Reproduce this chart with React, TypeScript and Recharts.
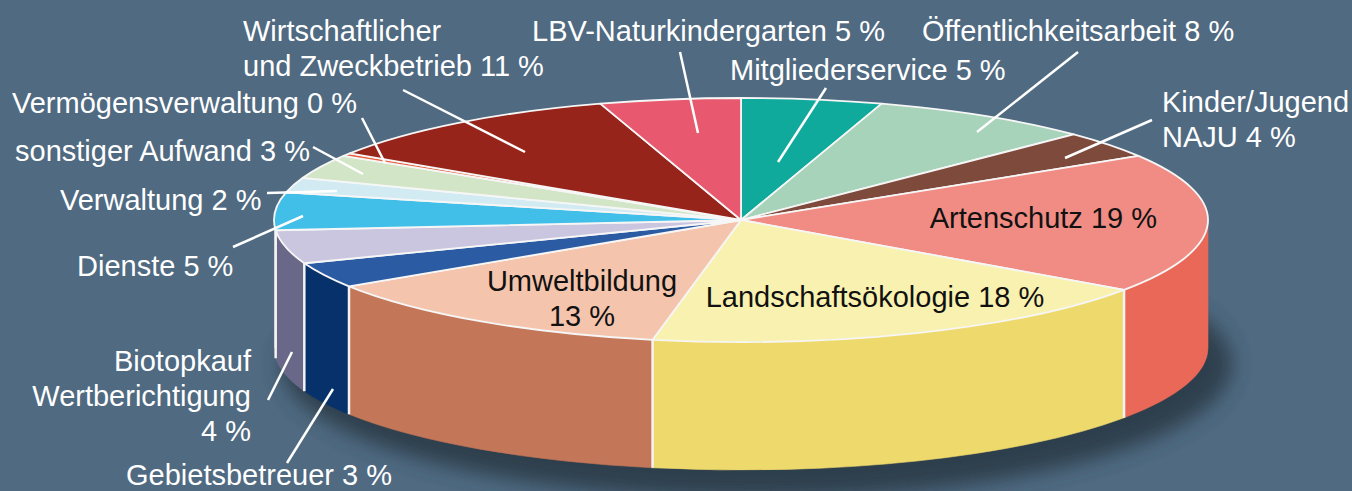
import { Cell, Pie, PieChart } from "recharts";

// clockwise from 12 o'clock
const names = [
  "Mitgliederservice",
  "Öffentlichkeitsarbeit",
  "Kinder/Jugend NAJU",
  "Artenschutz",
  "Landschaftsökologie",
  "Umweltbildung",
  "Gebietsbetreuer",
  "Biotopkauf Wertberichtigung",
  "Dienste",
  "Verwaltung",
  "sonstiger Aufwand",
  "Vermögensverwaltung",
  "Wirtschaftlicher und Zweckbetrieb",
  "LBV-Naturkindergarten",
];
// shares (labels show them rounded)
const values = [4.9, 7.8, 3.6, 18.6, 18.45, 12.9, 3.4, 4.45, 5.0, 2.0, 3.2, 0.4, 11.0, 4.9];
const topColors = [
  "#10aa9c", "#a6d3b9", "#7e4a3c", "#f08c84", "#f9f1b0", "#f4c4ac", "#2b5ca3",
  "#cbc6e0", "#42bfe9", "#d2ebf2", "#d2e5c6", "#e8603f", "#97241b", "#e8596f",
];
const sideColors = [
  "#0c8a7e", "#86b39a", "#5e3428", "#ea6858", "#eed96d", "#c47658", "#06316a",
  "#6a6888", "#6a6888", "#a9c9d2", "#aac49c", "#c24a30", "#741810", "#c23e52",
];
const labelText = [
  ["Mitgliederservice 5 %"],
  ["Öffentlichkeitsarbeit 8 %"],
  ["Kinder/Jugend", "NAJU 4 %"],
  ["Artenschutz 19 %"],
  ["Landschaftsökologie 18 %"],
  ["Umweltbildung", "13 %"],
  ["Gebietsbetreuer 3 %"],
  ["Biotopkauf", "Wertberichtigung", "4 %"],
  ["Dienste 5 %"],
  ["Verwaltung 2 %"],
  ["sonstiger Aufwand 3 %"],
  ["Vermögensverwaltung 0 %"],
  ["Wirtschaftlicher", "und Zweckbetrieb 11 %"],
  ["LBV-Naturkindergarten 5 %"],
];

const data = names.map((name, i) => ({ name, value: values[i] }));

// label placement: x, first baseline, anchor, inside?, leader line
const labelPos: { x: number; y: number; anchor: string; inside?: boolean; line?: number[] }[] = [
  { x: 730, y: 80, anchor: "start", line: [826, 88, 778, 162] },
  { x: 922, y: 41, anchor: "start", line: [1078, 52, 977, 132] },
  { x: 1162, y: 112, anchor: "start", line: [1152, 120, 1065, 158] },
  { x: 1157, y: 228, anchor: "end", inside: true },
  { x: 875, y: 307, anchor: "middle", inside: true },
  { x: 582, y: 291, anchor: "middle", inside: true },
  { x: 126, y: 485, anchor: "start", line: [287, 463, 333, 389] },
  { x: 251, y: 371, anchor: "end", line: [268, 400, 292, 352] },
  { x: 77, y: 276, anchor: "start", line: [233, 247, 303, 216] },
  { x: 60, y: 210, anchor: "start", line: [267, 193, 337, 191] },
  { x: 15, y: 161, anchor: "start", line: [313, 147, 363, 174] },
  { x: 12, y: 113, anchor: "start", line: [362, 118, 385, 163] },
  { x: 243, y: 41, anchor: "start", line: [403, 90, 525, 152] },
  { x: 532, y: 41, anchor: "start", line: [680, 52, 698, 133] },
];

const CX = 741;
const CY = 220;
const RX = 467;
const RY = 122;
const DEPTH = 128;
const K = RY / RX;
const RAD = Math.PI / 180;
const FONT = "'Liberation Sans', Arial, sans-serif";

const pt = (cx: number, cy: number, r: number, a: number) => [cx + r * Math.cos(a * RAD), cy - r * K * Math.sin(a * RAD)];

// visible outer wall of a slice (front half only: angles between 0 and -180)
function SideShape(p: any) {
  const { cx, cy, outerRadius: r, startAngle, endAngle, fill } = p;
  const hi = Math.max(startAngle, endAngle);
  const lo = Math.min(startAngle, endAngle);
  const s = Math.min(hi, 0);
  const e = Math.max(lo, -180);
  if (s <= e) return <g />;
  const [x1, y1] = pt(cx, cy, r, s);
  const [x2, y2] = pt(cx, cy, r, e);
  const d = `M${x1},${y1} A${r},${r * K} 0 0 1 ${x2},${y2} L${x2},${y2 + DEPTH} A${r},${r * K} 0 0 0 ${x1},${y1 + DEPTH} Z`;
  return (
    <g>
      <path d={d} fill={fill} stroke={fill} strokeWidth={0.6} />
      {lo <= -180 && <line x1={x2 + 1.5} y1={y2} x2={x2 + 1.5} y2={y2 + DEPTH} stroke="#dcdce6" strokeWidth={2} />}
    </g>
  );
}

function TopShape(p: any) {
  const { cx, cy, outerRadius: r, startAngle, endAngle, fill } = p;
  const [x1, y1] = pt(cx, cy, r, startAngle);
  const [x2, y2] = pt(cx, cy, r, endAngle);
  const large = Math.abs(startAngle - endAngle) > 180 ? 1 : 0;
  const sweep = startAngle > endAngle ? 1 : 0;
  const d = `M${cx},${cy} L${x1},${y1} A${r},${r * K} 0 ${large} ${sweep} ${x2},${y2} Z`;
  const edge = startAngle < 0 && startAngle > -180;
  return (
    <g>
      {edge && <line x1={x1} y1={y1} x2={x1} y2={y1 + DEPTH} stroke="#f4f4f4" strokeWidth={2.5} />}
      <path d={d} fill={fill} stroke="#f6f6f6" strokeWidth={1.8} strokeLinejoin="round" />
    </g>
  );
}

function renderLabel(p: any) {
  const i = p.index;
  const pos = labelPos[i];
  const lines = labelText[i];
  return (
    <g key={`lbl-${i}`}>
      {pos.line && (
        <line x1={pos.line[0]} y1={pos.line[1]} x2={pos.line[2]} y2={pos.line[3]} stroke="#ffffff" strokeWidth={2.5} />
      )}
      <text
        x={pos.x}
        y={pos.y}
        textAnchor={pos.anchor as any}
        fill={pos.inside ? "#111111" : "#ffffff"}
        fontFamily={FONT}
        fontSize={29}
      >
        {lines.map((t, j) => (
          <tspan key={j} x={pos.x} dy={j === 0 ? 0 : 35}>
            {t}
          </tspan>
        ))}
      </text>
    </g>
  );
}

export default function App() {
  return (
    <div style={{ position: "absolute", left: 0, top: 0, width: 1352, height: 491, background: "#4f6a81", overflow: "hidden" }}>
      <svg width={1352} height={491} style={{ position: "absolute", left: 0, top: 0 }}>
        <defs>
          <filter id="blur" x="-20%" y="-50%" width="140%" height="200%">
            <feGaussianBlur stdDeviation="10" />
          </filter>
        </defs>
        <ellipse cx={CX + 16} cy={CY + DEPTH + 16} rx={RX + 8} ry={RY + 12} fill="#2c3b47" opacity={0.9} filter="url(#blur)" />
      </svg>
      <div style={{ position: "absolute", left: 0, top: 0 }}>
        <PieChart width={1352} height={491} margin={{ top: 0, right: 0, bottom: 0, left: 0 }}>
          <Pie
            data={data}
            dataKey="value"
            nameKey="name"
            cx={CX}
            cy={CY}
            outerRadius={RX}
            startAngle={90}
            endAngle={-270}
            stroke="none"
            shape={SideShape}
            activeShape={SideShape}
            inactiveShape={SideShape}
            isAnimationActive={false}
          >
            {data.map((d, i) => (
              <Cell key={d.name} fill={sideColors[i]} />
            ))}
          </Pie>
          <Pie
            data={data}
            dataKey="value"
            nameKey="name"
            cx={CX}
            cy={CY}
            outerRadius={RX}
            startAngle={90}
            endAngle={-270}
            stroke="none"
            shape={TopShape}
            activeShape={TopShape}
            inactiveShape={TopShape}
            label={renderLabel}
            labelLine={false}
            isAnimationActive={false}
          >
            {data.map((d, i) => (
              <Cell key={d.name} fill={topColors[i]} />
            ))}
          </Pie>
        </PieChart>
      </div>
    </div>
  );
}
